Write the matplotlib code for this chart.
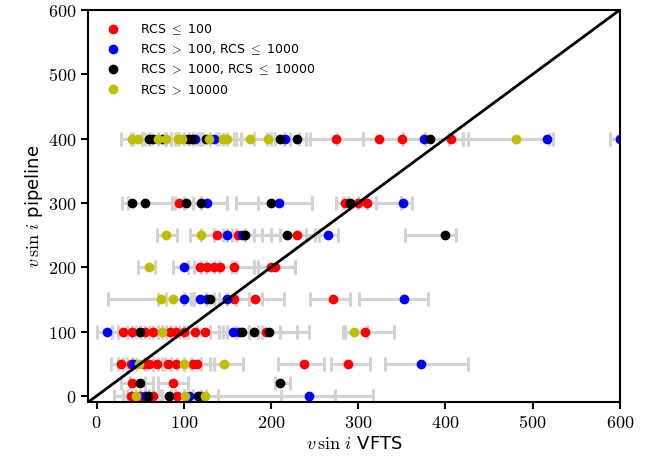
import matplotlib
matplotlib.use("Agg")
import matplotlib.pyplot as plt
import numpy as np

plt.rcParams['mathtext.fontset'] = 'cm'
plt.rcParams['font.family'] = ['DejaVu Sans']

# values, one row of pipeline values at a time
# (vfts, pipeline, lower bound, upper bound, rcs class)
# rcs class: 0 -> <=100, 1 -> 100..1000, 2 -> 1000..10000, 3 -> >10000
vfts = [
    # pipeline 400
    40, 48, 60, 65, 70, 75, 80, 93, 98, 105, 109, 113, 125, 129, 135, 145, 149,
    176, 196, 210, 216, 230, 275, 324, 350, 375, 382, 406, 481, 516, 600,
    # pipeline 300
    40, 56, 95, 102, 120, 126, 200, 209, 285, 291, 300, 310, 351,
    # pipeline 250
    80, 120, 138, 150, 162, 167, 170, 218, 230, 265, 400,
    # pipeline 200
    60, 100, 119, 126, 135, 141, 158, 200, 205,
    # pipeline 150
    74, 88, 100, 118, 126, 130, 149, 158, 182, 271, 352,
    # pipeline 100
    12, 30, 40, 50, 55, 65, 75, 84, 91, 100, 113, 124, 156, 163, 167, 180,
    194, 198, 295, 308,
    # pipeline 50
    28, 39, 42, 49, 54, 60, 69, 82, 91, 100, 110, 115, 146, 238, 288, 372,
    # pipeline 20
    40, 50, 88, 210,
    # pipeline 0
    39, 45, 50, 55, 59, 65, 83, 92, 101, 106, 116, 120, 124, 244,
]
pipeline = [400] * 31 + [300] * 13 + [250] * 11 + [200] * 9 + [150] * 11 + \
    [100] * 20 + [50] * 16 + [20] * 4 + [0] * 14
vfts_lo = [
    28, 39, 42, 52, 55, 62, 70, 80, 85, 92, 95, 100, 110, 115, 120, 130, 138,
    160, 180, 200, 205, 215, 240, 276, 305, 351, 351, 377, 426, 420, 589,
    29, 36, 86, 90, 100, 110, 160, 185, 274, 282, 288, 288, 349,
    69, 107, 120, 135, 145, 150, 155, 200, 210, 250, 354,
    48, 88, 105, 112, 120, 125, 140, 180, 185,
    13, 70, 80, 100, 108, 112, 125, 135, 160, 245, 301,
    0, 18, 25, 35, 40, 50, 60, 70, 75, 85, 95, 105, 140, 145, 150, 160,
    175, 175, 283, 285,
    17, 25, 30, 35, 40, 45, 55, 65, 75, 85, 92, 100, 120, 208, 269, 331,
    28, 38, 70, 205,
    20, 30, 35, 40, 45, 50, 65, 75, 85, 90, 100, 100, 90, 211,
]
vfts_hi = [
    52, 60, 78, 80, 85, 90, 95, 106, 110, 118, 122, 130, 140, 145, 150, 158, 165,
    195, 215, 222, 232, 245, 305, 351, 377, 404, 420, 426, 523, 519, 640,
    86, 120, 149, 120, 149, 149, 247, 247, 300, 310, 320, 349, 362,
    92, 135, 160, 170, 180, 190, 200, 240, 255, 277, 412,
    67, 120, 135, 140, 155, 160, 180, 228, 228,
    100, 110, 125, 140, 150, 160, 175, 190, 215, 291, 380,
    25, 45, 55, 65, 70, 80, 90, 100, 105, 115, 130, 140, 175, 185, 190, 210,
    230, 243, 310, 341,
    40, 55, 58, 65, 70, 78, 85, 100, 108, 118, 130, 135, 168, 261, 313, 426,
    55, 65, 105, 222,
    55, 60, 65, 72, 75, 85, 100, 110, 120, 125, 139, 139, 317, 273,
]
rcs_class = [
    3, 3, 2, 2, 3, 2, 3, 3, 3, 2, 2, 1, 2, 3, 1, 3, 3,
    3, 3, 2, 1, 2, 0, 0, 0, 1, 2, 0, 3, 1, 1,
    2, 2, 0, 2, 2, 1, 2, 1, 0, 2, 0, 0, 1,
    3, 3, 0, 1, 0, 1, 2, 2, 0, 1, 2,
    3, 1, 0, 0, 0, 0, 0, 0, 0,
    3, 3, 1, 1, 1, 2, 1, 0, 0, 0, 1,
    1, 0, 0, 2, 0, 0, 3, 0, 0, 0, 0, 0, 1, 1, 2, 2,
    0, 2, 3, 0,
    0, 0, 1, 3, 0, 0, 0, 0, 0, 3, 0, 0, 3, 0, 0, 1,
    0, 2, 0, 2,
    0, 3, 0, 1, 2, 0, 2, 0, 3, 1, 2, 0, 3, 1,
]
class_colors = ['r', 'b', 'k', 'y']
class_labels = [r'RCS $\leq$ 100',
                r'RCS $>$ 100, RCS $\leq$ 1000',
                r'RCS $>$ 1000, RCS $\leq$ 10000',
                r'RCS $>$ 10000']

x = np.array(vfts, dtype=float)
y = np.array(pipeline, dtype=float)
lo = x - np.array(vfts_lo)
hi = np.array(vfts_hi) - x
cls = np.array(rcs_class)

fig = plt.figure(figsize=(6.56, 4.70), dpi=100)
ax = fig.add_axes([0.134, 0.144, 0.811, 0.835])

ax.errorbar(x, y, xerr=[lo, hi], fmt='none', ecolor='lightgray',
            elinewidth=2.2, capsize=5, capthick=2.2, zorder=1)

for k in range(4):
    m = cls == k
    ax.plot(x[m], y[m], 'o', color=class_colors[k], markersize=6,
            label=class_labels[k], zorder=2)

ax.plot([-10, 600], [-10, 600], color='k', lw=2, zorder=3)

ax.set_xlim(-10, 600)
ax.set_ylim(-10, 600)
ticks = [0, 100, 200, 300, 400, 500, 600]
ax.set_xticks(ticks)
ax.set_yticks(ticks)
ax.set_xticklabels([f'${t}$' for t in ticks], fontsize=13)
ax.set_yticklabels([f'${t}$' for t in ticks], fontsize=13)
ax.tick_params(direction='out', length=5, width=1.5)
for s in ax.spines.values():
    s.set_linewidth(1.5)

ax.set_xlabel(r'$v\,\sin\,i$ VFTS', fontsize=13, labelpad=2)
ax.set_ylabel(r'$v\,\sin\,i$ pipeline', fontsize=13, labelpad=2)

ax.legend(loc='upper left', frameon=False, fontsize=9, numpoints=1,
          handletextpad=1.2, borderaxespad=0.6, labelspacing=0.45)

fig.savefig('out.png', dpi=100)
